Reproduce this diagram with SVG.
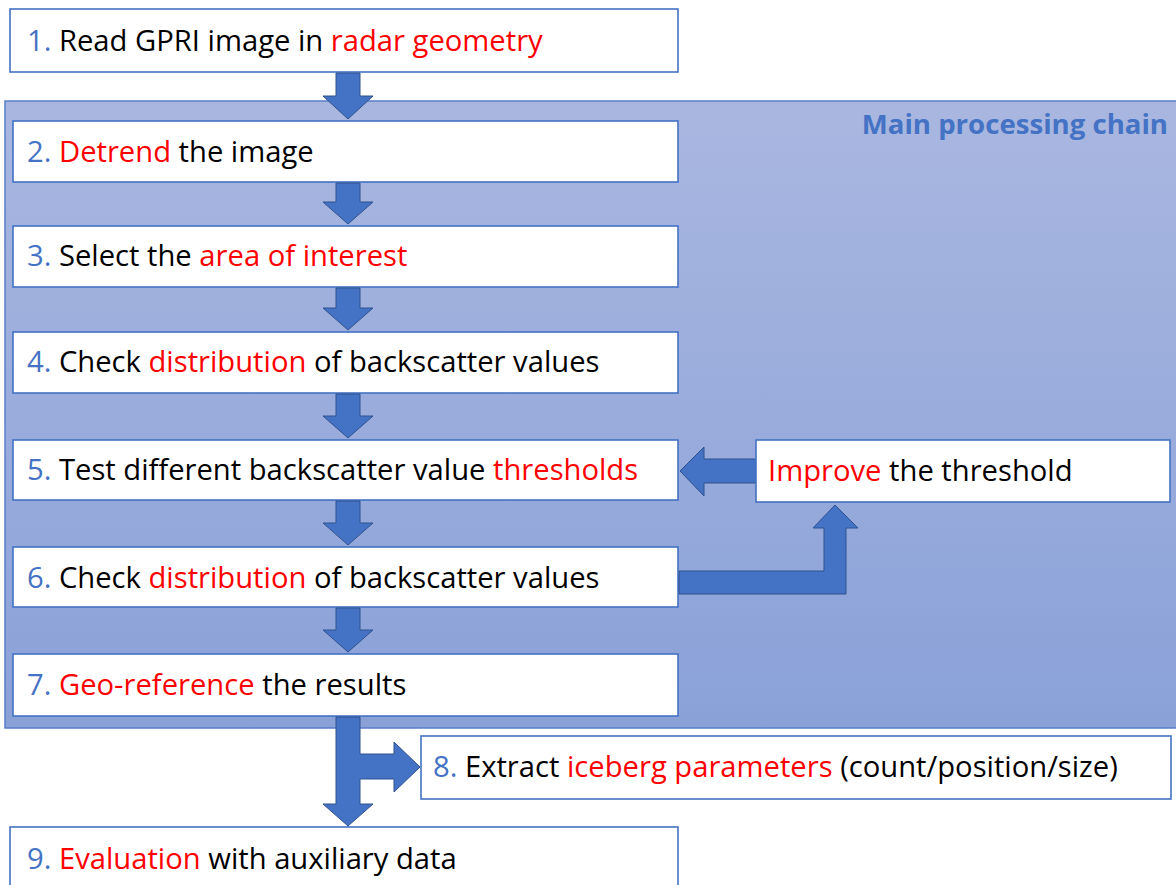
<svg xmlns="http://www.w3.org/2000/svg" width="1176" height="885" viewBox="0 0 1176 885">
<defs>
<linearGradient id="pg" x1="0" y1="0" x2="0" y2="1">
<stop offset="0" stop-color="#A9B7E0"/>
<stop offset="1" stop-color="#8AA1D8"/>
</linearGradient>
<style>
.box{fill:#FFFFFF;stroke:#4472C4;stroke-width:1.6}
.t{font-family:"Open Sans","Liberation Sans",sans-serif;font-size:29.2px;fill:#000000}
.n{fill:#4472C4}
.r{fill:#FF0000}
.arr{fill:#4472C4;stroke:#2F528F;stroke-width:1}
.title{font-family:"Open Sans","Liberation Sans",sans-serif;font-size:27.6px;font-weight:bold;fill:#4472C4}
</style>
</defs>
<rect width="1176" height="885" fill="#FFFFFF"/>
<g id="panel">
<rect x="5" y="101" width="1180" height="627" fill="url(#pg)" stroke="#5A7EC8" stroke-width="1.5"/>
<text class="title" x="1168" y="134" text-anchor="end">Main processing chain</text>
</g>
<g id="n1"><rect class="box" x="10" y="9" width="668" height="63"/><text class="t" x="27" y="51"><tspan class="n">1.</tspan> Read GPRI image in <tspan class="r">radar geometry</tspan></text></g>
<g id="n2"><rect class="box" x="13" y="121" width="665" height="61"/><text class="t" x="27" y="162"><tspan class="n">2.</tspan> <tspan class="r">Detrend</tspan> the image</text></g>
<g id="n3"><rect class="box" x="13" y="226" width="665" height="61"/><text class="t" x="27" y="266"><tspan class="n">3.</tspan> Select the <tspan class="r">area of interest</tspan></text></g>
<g id="n4"><rect class="box" x="13" y="332" width="665" height="61"/><text class="t" x="27" y="372"><tspan class="n">4.</tspan> Check <tspan class="r">distribution</tspan> of backscatter values</text></g>
<g id="n5"><rect class="box" x="13" y="440" width="665" height="60"/><text class="t" x="27" y="480"><tspan class="n">5.</tspan> Test different backscatter value <tspan class="r">thresholds</tspan></text></g>
<g id="n6"><rect class="box" x="13" y="547" width="665" height="60"/><text class="t" x="27" y="588"><tspan class="n">6.</tspan> Check <tspan class="r">distribution</tspan> of backscatter values</text></g>
<g id="n7"><rect class="box" x="13" y="654" width="665" height="62"/><text class="t" x="27" y="695"><tspan class="n">7.</tspan> <tspan class="r">Geo-reference</tspan> the results</text></g>
<g id="n8"><rect class="box" x="421" y="736" width="750" height="63"/><text class="t" x="433" y="777"><tspan class="n">8.</tspan> Extract <tspan class="r">iceberg parameters</tspan> (count/position/size)</text></g>
<g id="n9"><rect class="box" x="10" y="827" width="668" height="70"/><text class="t" x="27" y="869"><tspan class="n">9.</tspan> <tspan class="r">Evaluation</tspan> with auxiliary data</text></g>
<g id="connectors">
<polygon class="arr" points="336,73 360,73 360,96 373,96 348,119 323,96 336,96"/>
<polygon class="arr" points="336,183 360,183 360,202 373,202 348,224 323,202 336,202"/>
<polygon class="arr" points="336,288 360,288 360,308 373,308 348,330 323,308 336,308"/>
<polygon class="arr" points="336,394 360,394 360,416 373,416 348,438 323,416 336,416"/>
<polygon class="arr" points="336,501 360,501 360,523 373,523 348,545 323,523 336,523"/>
<polygon class="arr" points="336,608 360,608 360,630 373,630 348,652 323,630 336,630"/>
<polygon class="arr" points="336,717 360,717 360,754 394,754 394,742 420,767 394,792 394,779 360,779 360,804 373,804 348,826 323,804 336,804"/>
<polygon class="arr" points="756,459 704,459 704,447 680,471 704,496 704,483 756,483"/>
<polygon class="arr" points="679,571 824,571 824,528 813,528 835,505 858,528 846,528 846,594 679,594"/>
</g>
<g id="improve"><rect class="box" x="756" y="440" width="414" height="62"/><text class="t" x="768" y="481"><tspan class="r">Improve</tspan> the threshold</text></g>
</svg>
